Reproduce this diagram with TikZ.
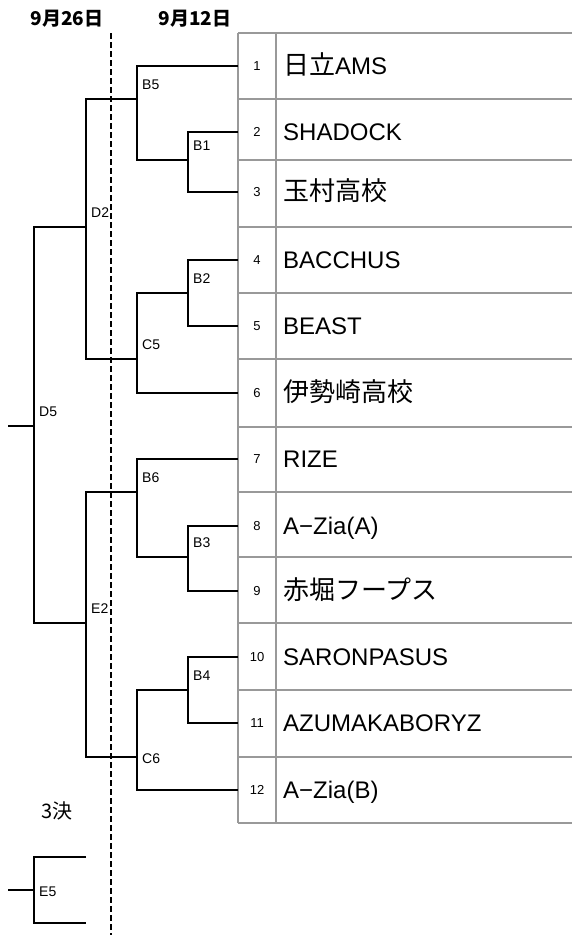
\documentclass[tikz,border=0pt]{standalone}
\usepackage{fontspec}
\setmainfont{Liberation Sans}
\newfontfamily\jpfont{Noto Sans CJK JP}
\usetikzlibrary{positioning}
\tikzset{
  bracket/.style={draw=black, line width=2pt},
  grid/.style={draw=black!40, line width=2pt},
  dayLine/.style={draw=black, line width=2pt, dash pattern=on 6pt off 3pt},
  matchLabel/.style={inner sep=0pt, font=\fontsize{14}{14}\selectfont},
  seedNum/.style={inner sep=0pt, font=\fontsize{13}{13}\selectfont},
  teamName/.style={inner sep=0pt, anchor=base west, font=\fontsize{24}{24}\selectfont},
  dayLabel/.style={inner sep=0pt, font=\jpfont\bfseries\fontsize{19}{19}\selectfont}
}

\begin{document}
\begin{tikzpicture}[x=1pt, y=-1pt]
      \useasboundingbox (0,0) rectangle (572,935);

      % table of teams
      \foreach \y in {33,99,160,227,293,359,427,492,557,623,690,757,823}
        \draw[grid] (238,\y) -- (572,\y);
      \draw[grid] (238,33) -- (238,823);
      \draw[grid] (276,33) -- (276,823);

      \foreach \i/\y/\team in {1/66/{{\jpfont\fontsize{26}{26}\selectfont 日立}AMS},
          2/132/SHADOCK, 3/192/{{\jpfont\fontsize{26}{26}\selectfont 玉村高校}},
          4/260/BACCHUS, 5/326/BEAST, 6/393/{{\jpfont\fontsize{26}{26}\selectfont 伊勢崎高校}},
          7/459/RIZE, 8/526/A−Zia(A), 9/591/{{\jpfont\fontsize{26}{26}\selectfont 赤堀フープス}},
          10/657/SARONPASUS, 11/723/AZUMAKABORYZ, 12/790/A−Zia(B)} {
        \coordinate (t\i) at (238,\y);
        \node[seedNum] (s\i) at (257,\y) {\i};
        \node[teamName] (n\i) at (283,{\y+8.5}) {\team};
      }

      % dates
      \node[dayLabel] (day26) at (67,19) {9月26日};
      \node[dayLabel] (day12) at (195,19) {9月12日};
      \coordinate (dTop) at (111,33);
      \coordinate (dBot) at (111,935);
      \draw[dayLine] (dTop) -- (dBot);

      % junctions
      \coordinate (B1) at (188,160);
      \coordinate (B2) at (188,293);
      \coordinate (B3) at (188,557);
      \coordinate (B4) at (188,690);
      \coordinate (B5) at (137,99);
      \coordinate (C5) at (137,359);
      \coordinate (B6) at (137,492);
      \coordinate (C6) at (137,757);
      \coordinate (D2) at (86,227);
      \coordinate (E2) at (86,623);
      \coordinate (D5) at (34,426);
      \coordinate (fin) at (8,426);

      \draw[bracket] (t2) -| (B1) |- (t3);
      \draw[bracket] (t1) -| (B5) |- (B1);
      \draw[bracket] (t4) -| (B2) |- (t5);
      \draw[bracket] (B2) -| (C5) |- (t6);
      \draw[bracket] (B5) -| (D2) |- (C5);
      \draw[bracket] (t8) -| (B3) |- (t9);
      \draw[bracket] (t7) -| (B6) |- (B3);
      \draw[bracket] (t10) -| (B4) |- (t11);
      \draw[bracket] (B4) -| (C6) |- (t12);
      \draw[bracket] (B6) -| (E2) |- (C6);
      \draw[bracket] (D2) -| (D5) |- (E2);
      \draw[bracket] (fin) -- (D5);

      \foreach \m in {B1,B2,B3,B4,B5,C5,B6,D2,E2,D5}
        \node[matchLabel, above right=9pt and 5pt of \m] (l\m) {\m};
      \node[matchLabel, right=5pt of C6, yshift=-2pt] (lC6) {C6};

      % third place
      \node[inner sep=0pt, font=\jpfont\fontsize{20}{20}\selectfont] (third) at (57,811) {3決};
      \coordinate (E5) at (34,890);
      \coordinate (e5a) at (86,857);
      \coordinate (e5b) at (86,923);
      \coordinate (e5fin) at (8,890);
      \draw[bracket] (e5a) -| (E5) |- (e5b);
      \draw[bracket] (e5fin) -- (E5);
      \node[matchLabel, right=5pt of E5, yshift=-2pt] (lE5) {E5};

\end{tikzpicture}
\end{document}
